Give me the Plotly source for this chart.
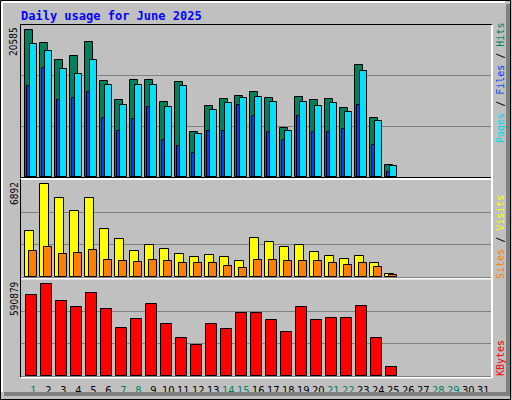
import plotly.graph_objects as go
from plotly.subplots import make_subplots

# Daily values (June 2025, days 1-25 have data)
days = list(range(1, 32))
hits = [20585, 18775, 16400, 16960, 18915, 13470, 10810, 13605, 13605, 10530,
        13325, 6340, 9975, 10950, 11370, 11930, 11090, 6900, 11230, 10810,
        10950, 9695, 15700, 8300, 1730]
files = [18635, 17660, 15140, 14445, 16400, 12910, 10115, 12910, 12910, 9835,
         12770, 6065, 9415, 10395, 11090, 11230, 10530, 6480, 10530, 9975,
         10395, 9135, 14865, 7880, 1590]
pages = [12770, 15280, 10810, 11090, 11930, 8300, 6480, 8160, 9835, 5225,
         4385, 3410, 6480, 6480, 10115, 8580, 6340, 5225, 8580, 6340,
         6340, 6760, 10115, 4525, 755]
visits = [3385, 6892, 5850, 4880, 5850, 3535, 2790, 1970, 2415, 2120,
          1745, 1520, 1670, 1520, 1225, 2865, 2640, 2195, 2415, 1895,
          1595, 1375, 1595, 1075, 255]
sites = [1970, 2195, 1745, 1820, 2045, 1300, 1225, 1150, 1300, 1225,
         1075, 1075, 1075, 850, 700, 1300, 1300, 1225, 1225, 1225,
         1075, 925, 1075, 775, 180]
kbytes = [519400, 590879, 480500, 448000, 532400, 435000, 311700, 370100, 461000, 337600,
          246700, 201300, 337600, 305200, 409100, 409100, 363600, 285700, 448000, 363600,
          376600, 376600, 454500, 246700, 58400]
weekend = [1, 7, 8, 14, 15, 21, 22, 28, 29]
max_labels = ["20585", "6892", "590879"]

n = len(hits)
x = days[:n]

BG = "#C0C0C0"
W, H = 512, 400
L, R, T, B = 21, 491, 25, 376


def px(xp):
    return (xp - L) / (R - L)


def py(yp):
    return (B - yp) / (B - T)


fig = make_subplots(rows=3, cols=1, shared_xaxes=True, vertical_spacing=0)

line = dict(color="black", width=1)
fig.add_trace(go.Bar(x=x, y=hits, offset=-0.53, width=0.51, marker=dict(color="#00805C", line=line)), 1, 1)
fig.add_trace(go.Bar(x=x, y=files, offset=-0.25, width=0.49, marker=dict(color="#00E0FF", line=line)), 1, 1)
fig.add_trace(go.Bar(x=x, y=pages, offset=-0.40, width=0.17, marker=dict(color="#0040FF", line=line)), 1, 1)
fig.add_trace(go.Bar(x=x, y=visits, offset=-0.53, width=0.58, marker=dict(color="#FFFF00", line=line)), 2, 1)
fig.add_trace(go.Bar(x=x, y=sites, offset=-0.27, width=0.51, marker=dict(color="#FF8000", line=line)), 2, 1)
fig.add_trace(go.Bar(x=x, y=kbytes, offset=-0.47, width=0.71, marker=dict(color="#FF0000", line=line)), 3, 1)

tops = [21230, 7215, 625300]
domains = [[py(177), 1], [py(277), py(180)], [0, py(279)]]
for i in range(3):
    top = tops[i]
    fig.update_yaxes(row=i + 1, col=1, range=[0, top], domain=domains[i],
                     tickvals=[top / 3, 2 * top / 3], showticklabels=False,
                     gridcolor="#808080", gridwidth=1, zeroline=False, automargin=False,
                     showline=True, linecolor="black", mirror=True, ticks="")

ticktext = ['<span style="color:#00805C">%d</span>' % d if d in weekend else str(d) for d in days]
fig.update_xaxes(range=[0.18, 31.51], showgrid=False, zeroline=False, automargin=False,
                 showline=True, linecolor="black", mirror=True, ticks="")
fig.update_xaxes(row=3, col=1, tickvals=days, ticktext=ticktext, showticklabels=True, tickangle=0,
                 ticks="outside", ticklen=4, tickcolor=BG,
                 tickfont=dict(family="DejaVu Sans Condensed", size=11, color="black"))

mono = "DejaVu Sans Mono"
ann = [
    dict(x=px(19), y=py(16), text="<b>Daily usage for June 2025</b>", xanchor="left", yanchor="middle",
         font=dict(family=mono, size=12, color="#0000FF")),
    dict(x=px(500), y=py(83), textangle=-90,
         text='<span style="color:#00D8F0">Pages</span> / <span style="color:#0040FF">Files</span> / '
              '<span style="color:#00805C">Hits</span>',
         font=dict(family=mono, size=10, color="black")),
    dict(x=px(500), y=py(237), textangle=-90,
         text='<span style="color:#FF8000">Sites</span> / <span style="color:#FFFF00">Visits</span>',
         font=dict(family=mono, size=10, color="black")),
    dict(x=px(500), y=py(358), textangle=-90, text="KBytes",
         font=dict(family=mono, size=10, color="#FF0000")),
]
label_tops = [27, 182, 281]
for lab, yt in zip(max_labels, label_tops):
    ann.append(dict(x=px(14), y=py(yt + 3.0 * len(lab)), textangle=-90, text=lab,
                    font=dict(family="DejaVu Sans Condensed", size=10, color="black")))
for a in ann:
    a.update(xref="paper", yref="paper", showarrow=False)
    if a.get("textangle"):
        a.update(xanchor="center", yanchor="middle")

shapes = [
    # outer frame with 3d shadow
    dict(type="rect", x0=px(0.5), x1=px(510.5), y0=py(399.5), y1=py(0.5), line=dict(color="black", width=1)),
    dict(type="rect", x0=px(506), x1=px(510), y0=py(396), y1=py(4), fillcolor="#808080", line=dict(width=0)),
    dict(type="rect", x0=px(4), x1=px(510), y0=py(396), y1=py(392), fillcolor="#808080", line=dict(width=0)),
    dict(type="line", x0=px(2), x1=px(505), y0=py(2), y1=py(2), line=dict(color="white", width=2)),
    dict(type="line", x0=px(2), x1=px(2), y0=py(2), y1=py(392), line=dict(color="white", width=2)),
    # white highlights below panels
    dict(type="line", x0=0, x1=px(492), y0=py(179), y1=py(179), line=dict(color="white", width=2)),
    dict(type="line", x0=0, x1=px(492), y0=py(278.5), y1=py(278.5), line=dict(color="white", width=2)),
    dict(type="line", x0=0, x1=px(492), y0=py(377.5), y1=py(377.5), line=dict(color="white", width=2)),
    dict(type="line", x0=px(492), x1=px(492), y0=py(377.5), y1=py(25), line=dict(color="white", width=2)),
]
for s in shapes:
    s.update(xref="paper", yref="paper", layer="above")

fig.update_layout(width=W, height=H, margin=dict(l=L, r=W - R, t=T, b=H - B),
                  paper_bgcolor=BG, plot_bgcolor=BG, showlegend=False, barmode="overlay",
                  annotations=ann, shapes=shapes, bargap=0)

fig.write_html("out.html", config={"displayModeBar": False},
               post_script="document.body.style.margin='0';")
